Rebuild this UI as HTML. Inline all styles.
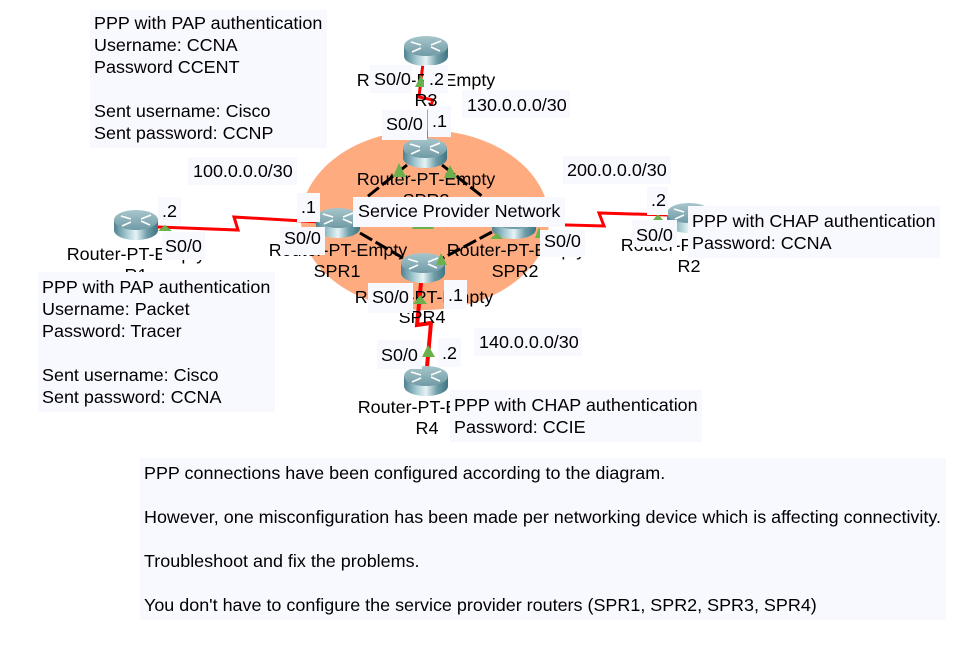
<!DOCTYPE html>
<html>
<head>
<meta charset="utf-8">
<style>
html,body{margin:0;padding:0;background:#fff;width:972px;height:646px;overflow:hidden}
svg{display:block}
text{font-family:"Liberation Sans",Arial,sans-serif;font-size:17.95px;fill:#000;transform:translateY(1px)}
.b{fill:#f8f8ff}
.m{text-anchor:middle}
</style>
</head>
<body>
<svg width="972" height="646" viewBox="0 0 972 646" xmlns="http://www.w3.org/2000/svg">
<defs>
<linearGradient id="cyl" x1="0" x2="1" y1="0" y2="0">
<stop offset="0" stop-color="#4f8290"/>
<stop offset=".3" stop-color="#a9cdd4"/>
<stop offset=".5" stop-color="#e6f3f5"/>
<stop offset=".75" stop-color="#6f9ea9"/>
<stop offset="1" stop-color="#3f7482"/>
</linearGradient>
<linearGradient id="top" x1="0" x2="0" y1="0" y2="1">
<stop offset="0" stop-color="#a8c6cc"/>
<stop offset="1" stop-color="#6f9aa5"/>
</linearGradient>
<g id="rt">
<path d="M0 10V20C0 26 10 30 22 30S44 26 44 20V10Z" fill="url(#cyl)"/>
<ellipse cx="22" cy="10" rx="22" ry="10" fill="url(#top)"/>
<path d="M7 6l10 3M37 5l-10 4M8 16l9-4M36 15l-9-4" stroke="#fff" stroke-width="1.6" fill="none"/>
</g>
</defs>

<ellipse cx="425" cy="220" rx="124" ry="90" fill="#ffab80"/>

<!-- dashed internal links -->
<g stroke="#000" stroke-width="3" stroke-dasharray="14 4" fill="none">
<path d="M407 165L352 209"/>
<path d="M442 165L496 207"/>
<path d="M360 233L403 258"/>
<path d="M492 232L443 258"/>
</g>

<!-- serial links -->
<g stroke="#f00" stroke-width="3" fill="none">
<path d="M158 227L238 230L234 217L320 222"/>
<path d="M530 224L604 226L599 213L668 215"/>
<path d="M423 63L419 97L433 100L429 110"/>
<path d="M427 110L427 139" stroke-width="1"/>
<path d="M421 283L417 325L431 323L427 367" stroke-width="4"/>
</g>

<!-- routers -->
<use href="#rt" x="404" y="36"/>
<use href="#rt" x="403" y="138"/>
<use href="#rt" x="316" y="208"/>
<use href="#rt" x="492" y="209"/>
<use href="#rt" x="401" y="253"/>
<use href="#rt" x="114" y="210"/>
<use href="#rt" x="667" y="203"/>
<use href="#rt" x="404" y="366"/>

<!-- router labels -->
<text x="426" y="85" class="m">Router-PT-Empty</text>
<text x="426" y="105" class="m">R3</text>
<text x="426" y="184" class="m">Router-PT-Empty</text>
<text x="426" y="205" class="m">SPR3</text>
<text x="338" y="255" class="m">Router-PT-Empty</text>
<text x="337" y="276" class="m">SPR1</text>
<text x="516" y="255" class="m">Router-PT-Empty</text>
<text x="515" y="276" class="m">SPR2</text>
<text x="424" y="302" class="m">Router-PT-Empty</text>
<text x="422" y="322" class="m">SPR4</text>
<text x="136" y="259" class="m">Router-PT-Empty</text>
<text x="136" y="280" class="m">R1</text>
<text x="690" y="250" class="m">Router-PT-Empty</text>
<text x="689" y="271" class="m">R2</text>
<text x="427" y="412" class="m">Router-PT-Empty</text>
<text x="427" y="433" class="m">R4</text>

<!-- triangles -->
<g fill="#6ab04c">
<path d="M399 163L406 177L393 177Z"/>
<path d="M450 165L457 178L444 178Z"/>
<path d="M421 75L427 87L415 87Z"/>
<path d="M418 217L424 229L412 229ZM428 217L434 229L422 229Z"/>
<path d="M165 225L172 231L158 231Z"/>
<path d="M658 214L663 220L653 220Z"/>
<path d="M420 295L427 304L413 304Z"/>
<path d="M428 345L435 357L422 357Z"/>
<path d="M497 233L503 239L490 239Z"/>
<path d="M441 253L447 265L436 265Z"/>
<path d="M539 227L543 238L535 238Z"/>
</g>

<!-- address boxes -->
<rect class="b" x="188" y="157" width="109" height="28"/>
<text x="193" y="176">100.0.0.0/30</text>
<rect class="b" x="462" y="90" width="108" height="28"/>
<text x="467" y="110">130.0.0.0/30</text>
<rect class="b" x="563" y="156" width="108" height="28"/>
<text x="567" y="175">200.0.0.0/30</text>
<rect class="b" x="474" y="328" width="108" height="28"/>
<text x="479" y="347">140.0.0.0/30</text>

<!-- interface boxes -->
<rect class="b" x="370" y="65" width="42" height="28"/>
<text x="374" y="84">S0/0</text>
<rect class="b" x="424" y="65" width="24" height="28"/>
<text x="429" y="84">.2</text>
<rect class="b" x="382" y="110" width="45" height="30"/>
<text x="386" y="129">S0/0</text>
<rect class="b" x="428" y="106" width="23" height="31"/>
<text x="432" y="126">.1</text>
<rect class="b" x="158" y="197" width="23" height="28"/>
<text x="162" y="216">.2</text>
<rect class="b" x="162" y="232" width="43" height="28"/>
<text x="165" y="251">S0/0</text>
<rect class="b" x="297" y="193" width="23" height="29"/>
<text x="301" y="212">.1</text>
<rect class="b" x="280" y="227" width="45" height="28"/>
<text x="284" y="243">S0/0</text>
<rect class="b" x="368" y="283" width="45" height="30"/>
<text x="372" y="302">S0/0</text>
<rect class="b" x="444" y="280" width="23" height="29"/>
<text x="448" y="300">.1</text>
<rect class="b" x="377" y="340" width="45" height="29"/>
<text x="381" y="360">S0/0</text>
<rect class="b" x="438" y="338" width="23" height="29"/>
<text x="442" y="358">.2</text>
<rect class="b" x="540" y="230" width="45" height="27"/>
<text x="544" y="246">S0/0</text>
<rect class="b" x="632" y="220" width="45" height="27"/>
<text x="636" y="240">S0/0</text>
<rect class="b" x="647" y="187" width="21" height="28"/>
<text x="651" y="205">.2</text>
<rect class="b" x="353" y="197" width="212" height="30"/>
<text x="358" y="216">Service Provider Network</text>

<!-- notes -->
<rect class="b" x="90" y="10" width="237" height="138"/>
<text x="94" y="28">PPP with PAP authentication</text>
<text x="94" y="50">Username: CCNA</text>
<text x="94" y="72">Password CCENT</text>
<text x="94" y="116">Sent username: Cisco</text>
<text x="94" y="138">Sent password: CCNP</text>

<rect class="b" x="38" y="272" width="237" height="140"/>
<text x="42" y="292">PPP with PAP authentication</text>
<text x="42" y="314">Username: Packet</text>
<text x="42" y="336">Password: Tracer</text>
<text x="42" y="380">Sent username: Cisco</text>
<text x="42" y="402">Sent password: CCNA</text>

<rect class="b" x="688" y="206" width="252" height="52"/>
<text x="692" y="226">PPP with CHAP authentication</text>
<text x="692" y="248">Password: CCNA</text>

<rect class="b" x="450" y="390" width="252" height="52"/>
<text x="454" y="410">PPP with CHAP authentication</text>
<text x="454" y="432">Password: CCIE</text>

<rect class="b" x="140" y="458" width="806" height="162"/>
<text x="144" y="478">PPP connections have been configured according to the diagram.</text>
<text x="144" y="522">However, one misconfiguration has been made per networking device which is affecting connectivity.</text>
<text x="144" y="566">Troubleshoot and fix the problems.</text>
<text x="144" y="610">You don't have to configure the service provider routers (SPR1, SPR2, SPR3, SPR4)</text>
</svg>
</body>
</html>
